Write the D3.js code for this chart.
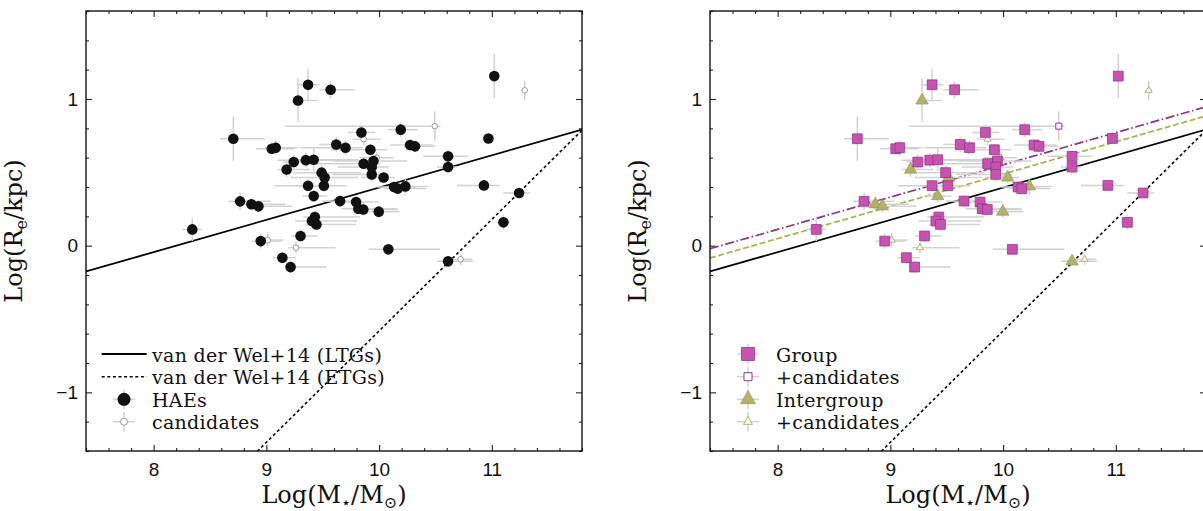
<!DOCTYPE html>
<html><head><meta charset="utf-8">
<script src="https://cdn.jsdelivr.net/npm/d3@7"></script>
<style>body{margin:0;background:#fff}svg{display:block}</style>
</head><body>
<svg id="chart" width="1203" height="511"></svg>
<script>
// ---------- DATA ----------
// HAEs (filled): log stellar mass, log Re, asymmetric mass errors, size error, environment (G = group, I = intergroup)
const haeMass = [8.343,8.707,8.767,8.867,8.930,8.950,9.048,9.083,9.142,9.215,9.180,9.243,9.281,9.370,9.303,9.350,9.420,9.370,9.420,9.490,9.517,9.510,9.430,9.404,9.444,9.570,9.843,10.192,11.022,9.620,9.702,9.923,10.275,10.319,9.863,9.950,9.935,9.935,10.040,9.654,9.796,9.816,9.860,9.997,10.133,10.166,10.233,10.612,10.612,10.970,10.930,11.242,11.103,10.612,10.082];
const haeSize = [0.111,0.729,0.302,0.282,0.268,0.031,0.661,0.668,-0.082,-0.146,0.519,0.570,0.990,1.097,0.066,0.583,0.586,0.409,0.338,0.498,0.464,0.409,0.195,0.168,0.145,1.063,0.772,0.791,1.156,0.690,0.668,0.654,0.686,0.677,0.559,0.577,0.536,0.486,0.465,0.304,0.297,0.252,0.247,0.232,0.400,0.389,0.404,0.609,0.536,0.731,0.411,0.359,0.159,-0.107,-0.025];
const haeMassErrLo = [0.09,0.12,0.10,0.10,0.08,0.08,0.14,0.10,0.08,0.05,0.08,0.10,0.04,0.10,0.08,0.25,0.15,0.12,0.10,0.25,0.30,0.44,0.10,0.15,0.10,0.10,0.12,0.11,0.04,0.15,0.40,0.35,0.18,0.10,0.50,0.35,0.30,0.35,0.20,0.16,0.15,0.15,0.10,0.08,0.15,0.12,0.10,0.22,0.10,0.05,0.24,0.14,0.06,0.10,0.17];
const haeMassErrHi = [0.09,0.28,0.27,0.30,0.30,0.18,0.20,0.20,0.12,0.32,0.20,0.18,0.18,0.10,0.15,0.35,0.40,0.20,0.12,0.35,0.30,0.20,0.40,0.40,0.35,0.21,0.12,0.15,0.04,0.10,0.15,0.15,0.20,0.18,0.15,0.30,0.15,0.15,0.10,0.12,0.20,0.35,0.30,0.18,0.20,0.25,0.20,0.18,0.08,0.05,0.14,0.10,0.06,0.22,0.46];
const haeSizeErr = [0.08,0.15,0.06,0.04,0.04,0.05,0.04,0.05,0.04,0.04,0.05,0.05,0.15,0.11,0.04,0.05,0.08,0.04,0.04,0.05,0.05,0.04,0.04,0.04,0.04,0.06,0.05,0.05,0.15,0.05,0.05,0.04,0.04,0.04,0.04,0.04,0.04,0.05,0.04,0.04,0.04,0.04,0.04,0.04,0.04,0.04,0.06,0.04,0.04,0.03,0.03,0.03,0.05,0.03,0.03];
const haeEnv = ["G","G","G","I","I","G","G","G","G","G","I","G","I","G","G","G","G","G","I","G","I","G","G","G","G","G","G","G","G","G","G","G","G","G","G","G","G","G","I","G","G","G","G","I","G","G","I","G","G","G","G","G","G","I","G"];

// Candidates (open symbols)
const candMass = [9.012,9.263,9.863,9.979,10.494,11.292,10.723];
const candSize = [0.038,-0.014,0.726,0.600,0.815,1.059,-0.093];
const candMassErrLo = [0.06,0.07,0.10,0.15,1.33,0.03,0.10];
const candMassErrHi = [0.14,0.35,0.15,0.15,0.05,0.03,0.10];
const candSizeErr = [0.05,0.04,0.04,0.04,0.10,0.065,0.04];
const candEnv = ["I","I","I","I","G","I","I"];

// Size-mass relations (end points in log M, log Re)
const relMass = [7.4, 11.8];
const ltgRe = [-0.176, 0.792];          // van der Wel+14 LTGs
const etgRe = [-2.557, 0.787];          // van der Wel+14 ETGs
const groupRe = [-0.021, 0.947];        // group fit
const intergroupRe = [-0.084, 0.884];   // intergroup fit

// Axis ticks
const xTickLabels = [8, 9, 10, 11];
const yTickLabels = [-1, 0, 1];
const legendLeft = ["van der Wel+14 (LTGs)", "van der Wel+14 (ETGs)", "HAEs", "candidates"];
const legendRight = ["Group", "+candidates", "Intergroup", "+candidates"];

// ---------- DRAW ----------
const svg = d3.select("#chart");
const W = 496, H = 440, TOP = 11;
const x = d3.scaleLinear().domain([7.4, 11.8]).range([0, W]);
const y = d3.scaleLinear().domain([-1.4, 1.6]).range([H, 0]);

const C = {
  err: "#d2d2d2", black: "#111", cand: "#9a9a9a",
  gFill: "#c752b0", gEdge: "#93378a", iFill: "#b2b26a", iEdge: "#8f8f4c",
  gLine: "#8e347f", iLine: "#adab4c"
};
const serif = "'DejaVu Serif', 'Liberation Serif', serif";
const sans = "'Liberation Sans', Arial, sans-serif";

const xMinor = d3.range(74, 119, 2).map(v => v / 10).filter(v => !xTickLabels.includes(v));
const yMinor = d3.range(-14, 17, 2).map(v => v / 10).filter(v => !yTickLabels.includes(v));

const hae = haeMass.map((m, i) => ({m, s: haeSize[i], lo: haeMassErrLo[i], hi: haeMassErrHi[i], e: haeSizeErr[i], env: haeEnv[i]}));
const cand = candMass.map((m, i) => ({m, s: candSize[i], lo: candMassErrLo[i], hi: candMassErrHi[i], e: candSizeErr[i], env: candEnv[i]}));

function sq(side){ return d3.symbol(d3.symbolSquare, side*side)(); }
function tri(side){ return d3.symbol(d3.symbolTriangle, side*side*Math.sqrt(3)/4)(); }

function drawPanel(left, mode, idx){
  const g = svg.append("g").attr("transform", `translate(${left},${TOP})`);
  const clipId = "clip" + idx;
  g.append("clipPath").attr("id", clipId).append("rect").attr("width", W).attr("height", H);

  // axes
  const fmt = d3.format("d");
  const styleAxis = sel => { sel.select(".domain").remove(); sel.selectAll("line").attr("stroke", "#222").attr("stroke-width", 1.1); };
  g.append("g").attr("transform", `translate(0,${H})`)
    .call(d3.axisBottom(x).tickValues(xTickLabels).tickSize(-6).tickPadding(12).tickFormat(fmt))
    .call(styleAxis).call(s => s.selectAll("text").attr("font-family", sans).attr("font-size", 19).attr("fill", "#111"));
  g.append("g").attr("transform", `translate(0,${H})`)
    .call(d3.axisBottom(x).tickValues(xMinor).tickSize(-3).tickFormat("")).call(styleAxis);
  g.append("g").call(d3.axisTop(x).tickValues(xTickLabels).tickSize(-6).tickFormat("")).call(styleAxis);
  g.append("g").call(d3.axisTop(x).tickValues(xMinor).tickSize(-3).tickFormat("")).call(styleAxis);
  g.append("g")
    .call(d3.axisLeft(y).tickValues(yTickLabels).tickSize(-6).tickPadding(8).tickFormat(fmt))
    .call(styleAxis).call(s => s.selectAll("text").attr("font-family", sans).attr("font-size", 19).attr("fill", "#111"));
  g.append("g").call(d3.axisLeft(y).tickValues(yMinor).tickSize(-3).tickFormat("")).call(styleAxis);
  g.append("g").attr("transform", `translate(${W},0)`).call(d3.axisRight(y).tickValues(yTickLabels).tickSize(-6).tickFormat("")).call(styleAxis);
  g.append("g").attr("transform", `translate(${W},0)`).call(d3.axisRight(y).tickValues(yMinor).tickSize(-3).tickFormat("")).call(styleAxis);

  // relations
  const plot = g.append("g").attr("clip-path", `url(#${clipId})`);
  const line = d3.line().x(d => x(d[0])).y(d => y(d[1]));
  const rel = (vals, stroke, dash, w) => plot.append("path")
    .attr("d", line(relMass.map((m, i) => [m, vals[i]])))
    .attr("fill", "none").attr("stroke", stroke).attr("stroke-width", w).attr("stroke-dasharray", dash);
  rel(ltgRe, "#000", null, 1.8);
  rel(etgRe, "#000", "3,2.6", 1.6);
  if (mode === "env") {
    rel(intergroupRe, C.iLine, "6,2.6", 1.7);
    rel(groupRe, C.gLine, "9,2.6,1.6,2.6", 1.7);
  }

  // error bars
  const all = cand.concat(hae);
  const eb = plot.append("g").attr("stroke", C.err).attr("stroke-width", 1.5);
  eb.selectAll("line.h").data(all).join("line")
    .attr("x1", d => x(d.m - d.lo)).attr("x2", d => x(d.m + d.hi)).attr("y1", d => y(d.s)).attr("y2", d => y(d.s));
  eb.selectAll("line.v").data(all).join("line").attr("class", "v")
    .attr("x1", d => x(d.m)).attr("x2", d => x(d.m)).attr("y1", d => y(d.s - d.e)).attr("y2", d => y(d.s + d.e));

  const pts = plot.append("g");
  if (mode === "hae") {
    pts.selectAll("circle.c").data(cand).join("circle").attr("class", "c")
      .attr("cx", d => x(d.m)).attr("cy", d => y(d.s)).attr("r", 2.8)
      .attr("fill", "#fff").attr("stroke", C.cand).attr("stroke-width", 1);
    pts.selectAll("circle.h").data(hae).join("circle").attr("class", "h")
      .attr("cx", d => x(d.m)).attr("cy", d => y(d.s)).attr("r", 5.3).attr("fill", C.black);
  } else {
    const tr = d => `translate(${x(d.m)},${y(d.s)})`;
    pts.selectAll("path.ci").data(cand.filter(d => d.env === "I")).join("path").attr("class", "ci")
      .attr("d", tri(7)).attr("transform", tr).attr("fill", "#fff").attr("stroke", C.iFill).attr("stroke-width", 1);
    pts.selectAll("path.cg").data(cand.filter(d => d.env === "G")).join("path").attr("class", "cg")
      .attr("d", sq(6)).attr("transform", tr).attr("fill", "#fff").attr("stroke", C.gEdge).attr("stroke-width", 1);
    pts.selectAll("path.hi").data(hae.filter(d => d.env === "I")).join("path").attr("class", "hi")
      .attr("d", tri(12.5)).attr("transform", tr).attr("fill", C.iFill).attr("stroke", C.iEdge).attr("stroke-width", 0.6);
    pts.selectAll("path.hg").data(hae.filter(d => d.env === "G")).join("path").attr("class", "hg")
      .attr("d", sq(9.8)).attr("transform", tr).attr("fill", C.gFill).attr("stroke", C.gEdge).attr("stroke-width", 0.8);
  }

  // frame
  g.append("rect").attr("width", W).attr("height", H).attr("fill", "none").attr("stroke", "#111").attr("stroke-width", 1.4);

  // axis labels
  const xl = g.append("text").attr("x", W / 2).attr("y", H + 52).attr("text-anchor", "middle")
    .attr("font-family", serif).attr("font-size", 24).attr("fill", "#111");
  xl.append("tspan").text("Log(M");
  xl.append("tspan").attr("dy", 5).attr("font-size", 16).text("\u22C6");
  xl.append("tspan").attr("dy", -5).text("/M");
  xl.append("tspan").attr("dy", 5).attr("font-size", 16).text("\u2299");
  xl.append("tspan").attr("dy", -5).text(")");

  const yl = g.append("text").attr("transform", `translate(${-64},${H / 2}) rotate(-90)`).attr("text-anchor", "middle")
    .attr("font-family", serif).attr("font-size", 24).attr("fill", "#111");
  yl.append("tspan").text("Log(R");
  yl.append("tspan").attr("dy", 5).attr("font-size", 16).text("e");
  yl.append("tspan").attr("dy", -5).text("/kpc)");

  // legend
  const rows = [343, 365.7, 388.3, 410.7];
  const lg = g.append("g");
  const mx = 38, tx = 66;
  const labels = mode === "hae" ? legendLeft : legendRight;
  labels.forEach((t, i) => {
    lg.append("text").attr("x", tx).attr("y", rows[i] + 7.5).attr("font-family", serif)
      .attr("font-size", 19).attr("letter-spacing", 0.3).attr("fill", "#111").text(t);
  });
  const cross = (cy) => {
    lg.append("line").attr("x1", mx - 11).attr("x2", mx + 11).attr("y1", cy).attr("y2", cy).attr("stroke", C.err).attr("stroke-width", 1.5);
    lg.append("line").attr("x1", mx).attr("x2", mx).attr("y1", cy - 10).attr("y2", cy + 10).attr("stroke", C.err).attr("stroke-width", 1.5);
  };
  if (mode === "hae") {
    lg.append("line").attr("x1", 15.7).attr("x2", 60.7).attr("y1", rows[0]).attr("y2", rows[0]).attr("stroke", "#000").attr("stroke-width", 1.8);
    lg.append("line").attr("x1", 15.7).attr("x2", 60.7).attr("y1", rows[1]).attr("y2", rows[1]).attr("stroke", "#000").attr("stroke-width", 1.6).attr("stroke-dasharray", "3,2.6");
    cross(rows[2]);
    lg.append("circle").attr("cx", mx).attr("cy", rows[2]).attr("r", 6.5).attr("fill", C.black);
    cross(rows[3]);
    lg.append("circle").attr("cx", mx).attr("cy", rows[3]).attr("r", 3.6).attr("fill", "#fff").attr("stroke", C.cand);
  } else {
    const at = cy => `translate(${mx},${cy})`;
    cross(rows[0]);
    lg.append("path").attr("d", sq(13)).attr("transform", at(rows[0])).attr("fill", C.gFill).attr("stroke", C.gEdge).attr("stroke-width", 0.8);
    cross(rows[1]);
    lg.append("path").attr("d", sq(8)).attr("transform", at(rows[1])).attr("fill", "#fff").attr("stroke", C.gEdge).attr("stroke-width", 1);
    cross(rows[2]);
    lg.append("path").attr("d", tri(15)).attr("transform", at(rows[2])).attr("fill", C.iFill).attr("stroke", C.iEdge).attr("stroke-width", 0.6);
    cross(rows[3]);
    lg.append("path").attr("d", tri(9)).attr("transform", at(rows[3])).attr("fill", "#fff").attr("stroke", C.iFill).attr("stroke-width", 1);
  }
}

drawPanel(86, "hae", 0);
drawPanel(710, "env", 1);
</script>
</body></html>
